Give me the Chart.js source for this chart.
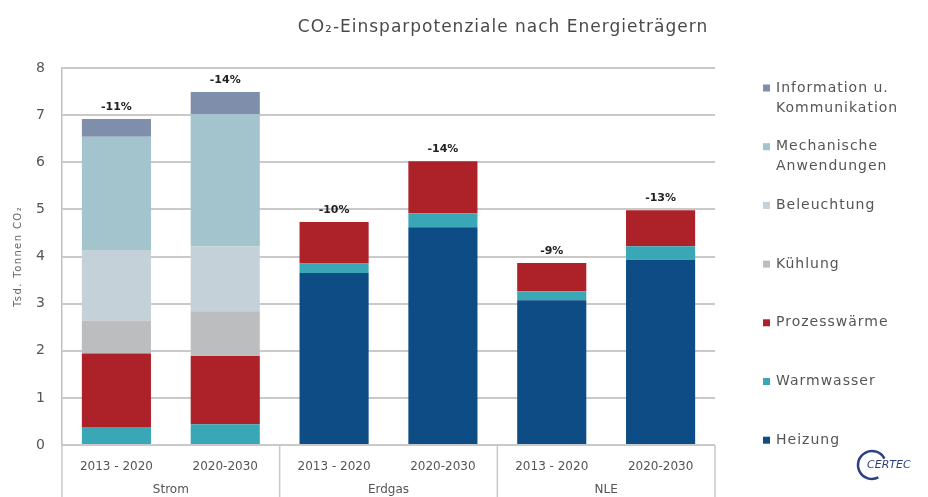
<!DOCTYPE html>
<html>
<head>
<meta charset="utf-8">
<script src="https://cdn.jsdelivr.net/npm/chart.js@4/dist/chart.umd.min.js"></script>
<style>
  html, body { margin: 0; padding: 0; background: #ffffff; }
  #wrap { width: 928px; height: 497px; position: relative; }
</style>
</head>
<body>
<div id="wrap"><canvas id="c" width="928" height="497"></canvas></div>
<script>
// Periods per energy carrier (two bars per group)
const categories = ['2013 - 2020', '2020-2030', '2013 - 2020', '2020-2030', '2013 - 2020', '2020-2030'];
const groups = ['Strom', 'Erdgas', 'NLE'];

// CO2 savings potential per application, stacked bottom to top (Tsd. t CO2)
const heizung     = [0,    0,    3.65, 4.62, 3.07, 3.93];
const warmwasser  = [0.38, 0.44, 0.20, 0.30, 0.19, 0.29];
const prozess     = [1.56, 1.45, 0.88, 1.10, 0.60, 0.76];
const kuehlung    = [0.70, 0.95, 0,    0,    0,    0];
const beleuchtung = [1.50, 1.38, 0,    0,    0,    0];
const mechanisch  = [2.40, 2.80, 0,    0,    0,    0];
const information = [0.38, 0.47, 0,    0,    0,    0];

// Relative saving printed above each stack
const savings = ['-11%', '-14%', '-10%', '-14%', '-9%', '-13%'];

const yTicks = [0, 1, 2, 3, 4, 5, 6, 7, 8];

const FONT = '"DejaVu Sans", "Liberation Sans", sans-serif';
const TEXT = '#555555';

const series = [
  { label: ['Heizung'],                         data: heizung,     color: '#0e4c86' },
  { label: ['Warmwasser'],                      data: warmwasser,  color: '#3aa7b6' },
  { label: ['Prozesswärme'],                    data: prozess,     color: '#ad2129' },
  { label: ['Kühlung'],                         data: kuehlung,    color: '#bcbdbf' },
  { label: ['Beleuchtung'],                     data: beleuchtung, color: '#c5d1d8' },
  { label: ['Mechanische', 'Anwendungen'],      data: mechanisch,  color: '#a3c4cc' },
  { label: ['Information u.', 'Kommunikation'], data: information, color: '#7f8eaa' }
];

// Title, axis caption, group labels, separators, totals, legend and logo
const decorations = {
  id: 'decorations',
  afterDraw(chart) {
    const ctx = chart.ctx;
    const area = chart.chartArea;
    const xs = chart.scales.x;
    const ys = chart.scales.y;
    ctx.save();

    // title
    ctx.fillStyle = '#4a4a4a';
    ctx.font = '17px ' + FONT;
    ctx.letterSpacing = '1px';
    ctx.textAlign = 'center';
    ctx.textBaseline = 'middle';
    ctx.fillText('CO₂-Einsparpotenziale nach Energieträgern', 503, 28);

    // y-axis caption
    ctx.save();
    ctx.translate(18, (area.top + area.bottom) / 2);
    ctx.rotate(-Math.PI / 2);
    ctx.font = '10px ' + FONT;
    ctx.letterSpacing = '1.4px';
    ctx.fillStyle = '#666666';
    ctx.fillText('Tsd. Tonnen CO₂', 0, 0);
    ctx.restore();

    // group separators below the axis and group names
    const bottom = chart.height;
    const bounds = [area.left];
    for (let g = 1; g < groups.length; g++) {
      const i = g * 2;
      bounds.push((xs.getPixelForValue(i - 1) + xs.getPixelForValue(i)) / 2);
    }
    bounds.push(area.right);
    ctx.strokeStyle = '#c8c8c8';
    ctx.lineWidth = 1.5;
    bounds.forEach(x => {
      ctx.beginPath();
      ctx.moveTo(x, area.bottom);
      ctx.lineTo(x, bottom);
      ctx.stroke();
    });
    ctx.letterSpacing = '0px';
    ctx.fillStyle = TEXT;
    ctx.font = '12px ' + FONT;
    groups.forEach((g, k) => {
      ctx.fillText(g, (bounds[k] + bounds[k + 1]) / 2, area.bottom + 45);
    });

    // totals labels
    ctx.fillStyle = '#222222';
    ctx.font = 'bold 11px ' + FONT;
    categories.forEach((c, i) => {
      let total = 0;
      series.forEach(s => { total += s.data[i]; });
      ctx.fillText(savings[i], xs.getPixelForValue(i), ys.getPixelForValue(total) - 12);
    });

    // legend (top entry = top of stack)
    const lx = 763, ly = 88, step = 58.7;
    ctx.textAlign = 'left';
    ctx.font = '14px ' + FONT;
    ctx.letterSpacing = '1px';
    series.slice().reverse().forEach((s, k) => {
      const y = ly + k * step;
      ctx.fillStyle = s.color;
      ctx.fillRect(lx, y - 3.5, 7, 7);
      ctx.fillStyle = TEXT;
      s.label.forEach((line, j) => {
        ctx.fillText(line, lx + 13, y + j * 20);
      });
    });

    // logo
    ctx.letterSpacing = '0px';
    ctx.strokeStyle = '#2c3f84';
    ctx.lineWidth = 2.5;
    ctx.beginPath();
    ctx.arc(872, 465, 14, 0.35 * Math.PI, 1.85 * Math.PI, false);
    ctx.stroke();
    ctx.fillStyle = '#2c3f84';
    ctx.font = 'italic 11px ' + FONT;
    ctx.fillText('CERTEC', 867, 465);

    ctx.restore();
  }
};

new Chart(document.getElementById('c'), {
  type: 'bar',
  data: {
    labels: categories,
    datasets: series.map(s => ({
      label: s.label.join(' '),
      data: s.data,
      backgroundColor: s.color,
      borderWidth: 0,
      categoryPercentage: 1,
      barPercentage: 0.635
    }))
  },
  options: {
    responsive: false,
    animation: false,
    layout: { padding: { top: 68, right: 213, bottom: 0, left: 0 } },
    plugins: {
      legend: { display: false },
      title: { display: false },
      tooltip: { enabled: false }
    },
    scales: {
      x: {
        stacked: true,
        grid: { display: false },
        border: { display: false },
        ticks: { color: TEXT, font: { family: FONT, size: 12 }, padding: 7, maxRotation: 0, autoSkip: false },
        afterFit(scale) { scale.height = 52; }
      },
      y: {
        stacked: true,
        min: 0,
        max: 8,
        afterBuildTicks(scale) { scale.ticks = yTicks.map(v => ({ value: v })); },
        grid: { color: '#c9c9c9', lineWidth: 2, drawTicks: false },
        border: { display: true, color: '#c0c0c0', width: 1.5 },
        ticks: { color: TEXT, font: { family: FONT, size: 14 }, padding: 17 },
        afterFit(scale) { scale.width = 62; }
      }
    }
  },
  plugins: [decorations]
});
</script>
</body>
</html>
